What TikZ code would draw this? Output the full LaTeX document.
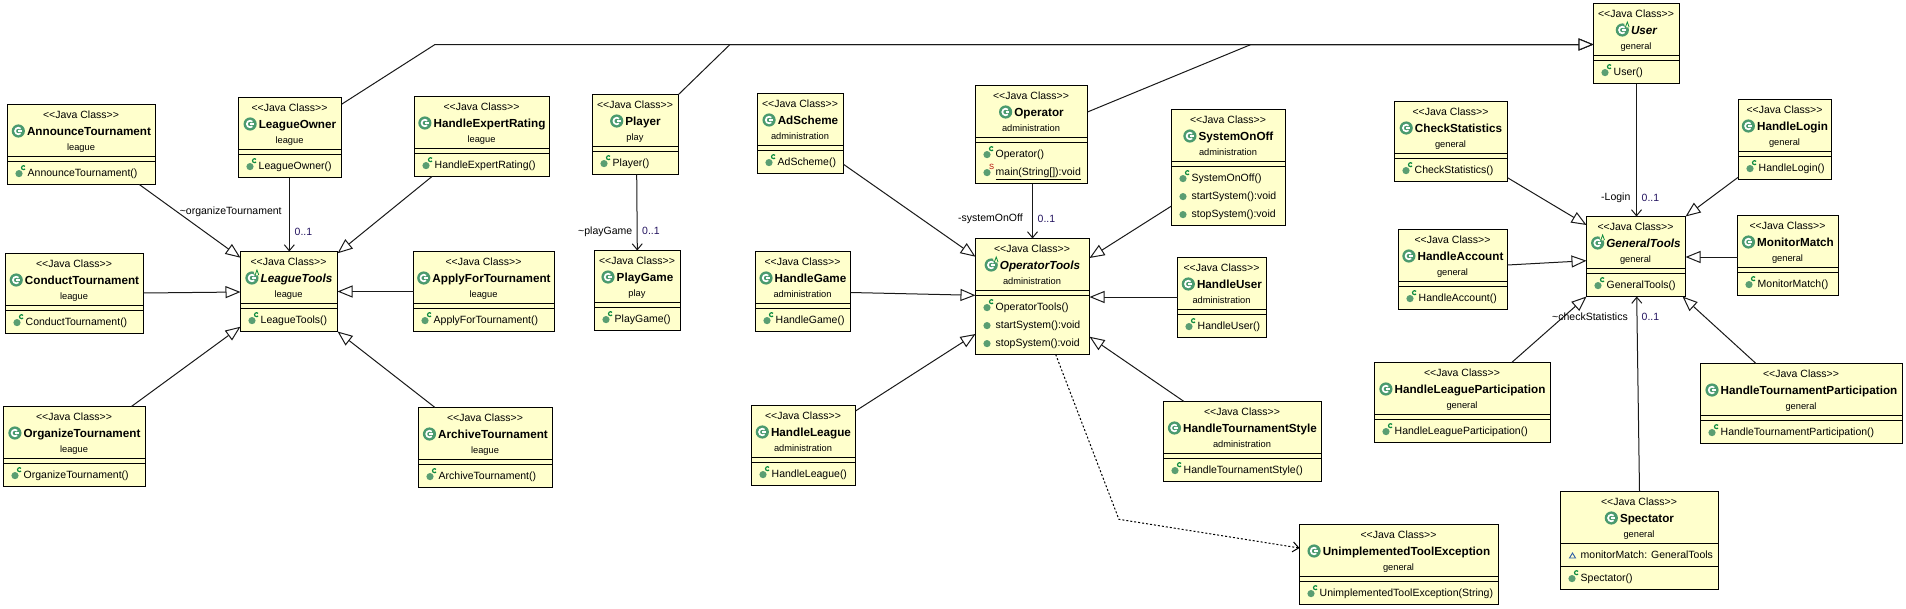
\documentclass[tikz,border=0pt]{standalone}
\usepackage{fontspec}
\setmainfont{Liberation Sans}
\usetikzlibrary{arrows.meta}
\definecolor{boxfill}{HTML}{FFFFCC}
\definecolor{iconbig}{HTML}{4A9A6E}
\definecolor{iconsmall}{HTML}{5A9E72}
\definecolor{iconc}{HTML}{0B8A3E}
\definecolor{mult}{HTML}{241460}
\definecolor{visblue}{HTML}{2F5FA8}
\tikzset{
  classbox/.style={draw=black,fill=boxfill,line width=1pt,inner sep=0pt,outer sep=0pt},
  rule/.style={draw=black,line width=1pt},
  stereo/.style={inner sep=0pt,anchor=base,font=\fontsize{10.5}{12}\selectfont},
  titletext/.style={inner sep=0pt,anchor=base,font=\fontsize{11.7}{13}\bfseries\selectfont},
  titleabs/.style={inner sep=0pt,anchor=base,font=\fontsize{11.7}{13}\bfseries\itshape\selectfont},
  pkgtext/.style={inner sep=0pt,anchor=base,font=\fontsize{9.3}{11}\selectfont},
  membertext/.style={inner sep=0pt,anchor=base west,font=\fontsize{10.5}{12}\selectfont},
  linklabel/.style={inner sep=0pt,anchor=base west,font=\fontsize{10.5}{12}\selectfont},
  multlabel/.style={inner sep=0pt,anchor=base west,text=mult,font=\fontsize{10.5}{12}\selectfont},
  staticmark/.style={inner sep=0pt,text=red!70!black,font=\fontsize{7.5}{8}\selectfont},
  link/.style={draw=black!90,line width=1pt},
  generalize/.style={link,-{Triangle[length=15pt,width=12pt,fill=white]}},
  assoc/.style={link,-{Straight Barb[length=6pt,width=10pt]}},
  depend/.style={draw=black,line width=1pt,dash pattern=on 2pt off 2pt,-{Straight Barb[length=6pt,width=10pt]}},
}
% id x1 y1 x2 y2 title package titlestyle
\newcommand\classcore[8]{%
  \node[classbox,minimum width=#4pt-#2pt,minimum height=#5pt-#3pt] (#1) at ({(#2+#4)/2},{(#3+#5)/2}) {};
  \node[stereo] (#1-st) at ([shift={(-0.5,13.7)}]#1.north) {<{}<Java Class>{}>};
  \node[#8] (#1-t) at ([shift={(7.5,30.7)}]#1.north) {#6};
  \node[pkgtext] (#1-p) at ([shift={(-0.5,45.5)}]#1.north) {#7};
  \coordinate (#1-i) at ([shift={(-8.5,-4.2)}]#1-t.base west);
  \fill[iconbig] (#1-i) circle[radius=6.6pt];
  \draw[white,line width=1.7pt] ([shift={(45:3.3pt)}]#1-i) arc[start angle=45,end angle=315,radius=3.3pt];
  \draw[white,line width=1.3pt] (#1-i) -- ++(3.8pt,0pt);
}
\newcommand\umlclass[7]{%
  \classcore{#1}{#2}{#3}{#4}{#5}{#6}{#7}{titletext}
  \draw[rule] ([shift={(0,52)}]#1.north west) -- ([shift={(0,52)}]#1.north east);
  \draw[rule] ([shift={(0,57)}]#1.north west) -- ([shift={(0,57)}]#1.north east);
}
\newcommand\umlabstract[7]{%
  \classcore{#1}{#2}{#3}{#4}{#5}{#6}{#7}{titleabs}
  \draw[rule] ([shift={(0,52)}]#1.north west) -- ([shift={(0,52)}]#1.north east);
  \draw[rule] ([shift={(0,57)}]#1.north west) -- ([shift={(0,57)}]#1.north east);
  \fill[boxfill] ([shift={(5,-5.5)}]#1-i) circle[radius=3pt];
  \draw[iconc,line width=0.8pt] ([shift={(3.2,-3)}]#1-i) -- ([shift={(5,-8)}]#1-i) -- ([shift={(6.8,-3)}]#1-i);
}
% id, suffix, y offset of the row's centre, text
\newcommand\plainmember[4]{%
  \node[membertext] (#1-#2) at ([shift={(20,#3+3.7)}]#1.north west) {#4};
  \fill[iconsmall] ([shift={(11.5,#3+0.6)}]#1.north west) circle[radius=3.6pt];
}
\newcommand\ctormember[4]{%
  \plainmember{#1}{#2}{#3}{#4}
  \draw[iconc,line width=1.15pt] ([shift={(16,#3-5.3)}]#1.north west) ++(40:2pt) arc[start angle=40,end angle=320,radius=2pt];
}
\begin{document}
\begin{tikzpicture}[x=1pt,y=-1pt]
\useasboundingbox (0,0) rectangle (1906,608);
\fill[white] (0,0) rectangle (1906,608);

\umlclass{AT}{7.5}{104.5}{155.5}{184.5}{AnnounceTournament}{league}
\ctormember{AT}{m1}{68.5}{AnnounceTournament()}
\umlclass{LO}{238.5}{97.5}{341.5}{177.5}{LeagueOwner}{league}
\ctormember{LO}{m1}{68.5}{LeagueOwner()}
\umlclass{HER}{414.5}{96.5}{549.5}{176.5}{HandleExpertRating}{league}
\ctormember{HER}{m1}{68.5}{HandleExpertRating()}
\umlclass{CT}{5.5}{253.5}{143.5}{333.5}{ConductTournament}{league}
\ctormember{CT}{m1}{68.5}{ConductTournament()}
\umlabstract{LT}{240.5}{251.5}{337.5}{331.5}{LeagueTools}{league}
\ctormember{LT}{m1}{68.5}{LeagueTools()}
\umlclass{AFT}{413.5}{251.5}{554.5}{331.5}{ApplyForTournament}{league}
\ctormember{AFT}{m1}{68.5}{ApplyForTournament()}
\umlclass{OrgT}{3.5}{406.5}{145.5}{486.5}{OrganizeTournament}{league}
\ctormember{OrgT}{m1}{68.5}{OrganizeTournament()}
\umlclass{ArT}{418.5}{407.5}{552.5}{487.5}{ArchiveTournament}{league}
\ctormember{ArT}{m1}{68.5}{ArchiveTournament()}

\umlclass{Pl}{592.5}{94.5}{678.5}{174.5}{Player}{play}
\ctormember{Pl}{m1}{68.5}{Player()}
\umlclass{PG}{594.5}{250.5}{680.5}{330.5}{PlayGame}{play}
\ctormember{PG}{m1}{68.5}{PlayGame()}

\umlclass{Ad}{757.5}{93.5}{843.5}{173.5}{AdScheme}{administration}
\ctormember{Ad}{m1}{68.5}{AdScheme()}
\umlclass{HG}{755.5}{251.5}{850.5}{331.5}{HandleGame}{administration}
\ctormember{HG}{m1}{68.5}{HandleGame()}
\umlclass{HL}{751.5}{405.5}{855.5}{485.5}{HandleLeague}{administration}
\ctormember{HL}{m1}{68.5}{HandleLeague()}
\umlclass{Op}{975.5}{85.5}{1087.5}{183.5}{Operator}{administration}
\ctormember{Op}{m1}{68.5}{Operator()}
\plainmember{Op}{m2}{86.5}{\underline{main(String[]):void}}
\node[staticmark] (Op-s) at ([shift={(16,81)}]Op.north west) {S};
\umlclass{SOO}{1171.5}{109.5}{1285.5}{225.5}{SystemOnOff}{administration}
\ctormember{SOO}{m1}{68.5}{SystemOnOff()}
\plainmember{SOO}{m2}{86.5}{startSystem():void}
\plainmember{SOO}{m3}{104.5}{stopSystem():void}
\umlabstract{OT}{975.5}{238.5}{1089.5}{354.5}{OperatorTools}{administration}
\ctormember{OT}{m1}{68.5}{OperatorTools()}
\plainmember{OT}{m2}{86.5}{startSystem():void}
\plainmember{OT}{m3}{104.5}{stopSystem():void}
\umlclass{HU}{1177.5}{257.5}{1266.5}{337.5}{HandleUser}{administration}
\ctormember{HU}{m1}{68.5}{HandleUser()}
\umlclass{HTS}{1163.5}{401.5}{1321.5}{481.5}{HandleTournamentStyle}{administration}
\ctormember{HTS}{m1}{68.5}{HandleTournamentStyle()}
\umlclass{UTE}{1299.5}{524.5}{1498.5}{604.5}{UnimplementedToolException}{general}
\ctormember{UTE}{m1}{68.5}{UnimplementedToolException(String)}

\umlclass{CS}{1394.5}{101.5}{1507.5}{181.5}{CheckStatistics}{general}
\ctormember{CS}{m1}{68.5}{CheckStatistics()}
\umlclass{HA}{1398.5}{229.5}{1507.5}{309.5}{HandleAccount}{general}
\ctormember{HA}{m1}{68.5}{HandleAccount()}
\umlclass{HLP}{1374.5}{362.5}{1550.5}{442.5}{HandleLeagueParticipation}{general}
\ctormember{HLP}{m1}{68.5}{HandleLeagueParticipation()}
\umlabstract{GT}{1586.5}{216.5}{1685.5}{296.5}{GeneralTools}{general}
\ctormember{GT}{m1}{68.5}{GeneralTools()}
\umlabstract{User}{1593.5}{3.5}{1679.5}{83.5}{User}{general}
\ctormember{User}{m1}{68.5}{User()}
\umlclass{HLog}{1738.5}{99.5}{1831.5}{179.5}{HandleLogin}{general}
\ctormember{HLog}{m1}{68.5}{HandleLogin()}
\umlclass{MM}{1737.5}{215.5}{1838.5}{295.5}{MonitorMatch}{general}
\ctormember{MM}{m1}{68.5}{MonitorMatch()}
\umlclass{HTP}{1700.5}{363.5}{1902.5}{443.5}{HandleTournamentParticipation}{general}
\ctormember{HTP}{m1}{68.5}{HandleTournamentParticipation()}
\classcore{Spec}{1560.5}{491.5}{1718.5}{589.5}{Spectator}{general}{titletext}
\draw[rule] ([shift={(0,52)}]Spec.north west) -- ([shift={(0,52)}]Spec.north east);
\draw[rule] ([shift={(0,75)}]Spec.north west) -- ([shift={(0,75)}]Spec.north east);
\node[membertext] (Spec-a1) at ([shift={(20,67.2)}]Spec.north west) {monitorMatch: GeneralTools};
\draw[visblue,line width=0.9pt] ([shift={(9,66.5)}]Spec.north west) -- ([shift={(15,66.5)}]Spec.north west) -- ([shift={(12,61.5)}]Spec.north west) -- cycle;
\ctormember{Spec}{m1}{86.5}{Spectator()}

% free bend points
\coordinate (bendLO) at (435,44.5);
\coordinate (bendPl) at (730,44.5);
\coordinate (bendOp) at (1251,44.5);
\coordinate (bendDep) at (1118.9,519.3);

% LeagueTools
\draw[generalize] ([xshift=131.8pt]AT.south west) -- ([shift={(0,6.2)}]LT.north west);
\draw[generalize] ([xshift=17.5pt]HER.south west) -- ([shift={(0,1.8)}]LT.north east);
\draw[generalize] ([shift={(0,39.5)}]CT.north east) -- ([shift={(0,40.5)}]LT.north west);
\draw[generalize] ([shift={(0,40)}]AFT.north west) -- ([shift={(0,40)}]LT.north east);
\draw[generalize] ([xshift=127.9pt]OrgT.north west) -- ([shift={(0,75.2)}]LT.north west);
\draw[generalize] ([xshift=16.5pt]ArT.north west) -- (LT.south east);
\draw[assoc] ([xshift=50.8pt]LO.south west) -- ([xshift=48.8pt]LT.north west);
% User
\draw[generalize] ([shift={(0,6.8)}]LO.north east) -- (bendLO) -- ([shift={(0,41)}]User.north west);
\draw[generalize] (Pl.north east) -- (bendPl) -- ([shift={(0,41)}]User.north west);
\draw[generalize] ([shift={(0,26.5)}]Op.north east) -- (bendOp) -- ([shift={(0,41)}]User.north west);
% PlayGame
\draw[assoc] ([xshift=44.2pt]Pl.south west) -- ([xshift=42.8pt]PG.north west);
% OperatorTools
\draw[generalize] ([shift={(0,70.8)}]Ad.north east) -- ([shift={(0,18.2)}]OT.north west);
\draw[generalize] ([shift={(0,41)}]HG.north east) -- ([shift={(0,56.8)}]OT.north west);
\draw[generalize] ([shift={(0,5.5)}]HL.north east) -- ([shift={(0,95.5)}]OT.north west);
\draw[assoc] ([xshift=57pt]Op.south west) -- ([xshift=57pt]OT.north west);
\draw[generalize] ([shift={(0,96.5)}]SOO.north west) -- ([shift={(0,19.5)}]OT.north east);
\draw[generalize] ([shift={(0,39.5)}]HU.north west) -- ([shift={(0,58.5)}]OT.north east);
\draw[generalize] ([xshift=20.5pt]HTS.north west) -- ([shift={(0,98.2)}]OT.north east);
\draw[depend] ([xshift=80.2pt]OT.south west) -- (bendDep) -- ([shift={(0,23.5)}]UTE.north west);
% GeneralTools
\draw[generalize] ([shift={(0,76.2)}]CS.north east) -- ([shift={(0,8.5)}]GT.north west);
\draw[generalize] ([shift={(0,35.5)}]HA.north east) -- ([shift={(0,44.2)}]GT.north west);
\draw[generalize] ([xshift=137.2pt]HLP.north west) -- (GT.south west);
\draw[generalize] ([xshift=55.5pt]HTP.north west) -- ([xshift=-3pt]GT.south east);
\draw[generalize] ([shift={(0,77.5)}]HLog.north west) -- (GT.north east);
\draw[generalize] ([shift={(0,41.5)}]MM.north west) -- ([shift={(0,40.5)}]GT.north east);
\draw[assoc] ([xshift=43pt]User.south west) -- ([xshift=50pt]GT.north west);
\draw[assoc] ([xshift=79pt]Spec.north west) -- ([xshift=50.2pt]GT.south west);

% labels
\node[linklabel] (lab-org) at (179.6,214.7) {\textasciitilde organizeTournament};
\node[multlabel] (mul-lo) at (294.5,235.5) {0..1};
\node[linklabel] (lab-pg) at (578,234) {\textasciitilde playGame};
\node[multlabel] (mul-pg) at (642,234.5) {0..1};
\node[linklabel] (lab-so) at (958,221.7) {-systemOnOff};
\node[multlabel] (mul-so) at (1037.5,222.7) {0..1};
\node[linklabel] (lab-lg) at (1601,200) {-Login};
\node[multlabel] (mul-lg) at (1641.5,201) {0..1};
\node[linklabel] (lab-cs) at (1552,320.5) {\textasciitilde checkStatistics};
\node[multlabel] (mul-cs) at (1641.5,320) {0..1};
\end{tikzpicture}
\end{document}
